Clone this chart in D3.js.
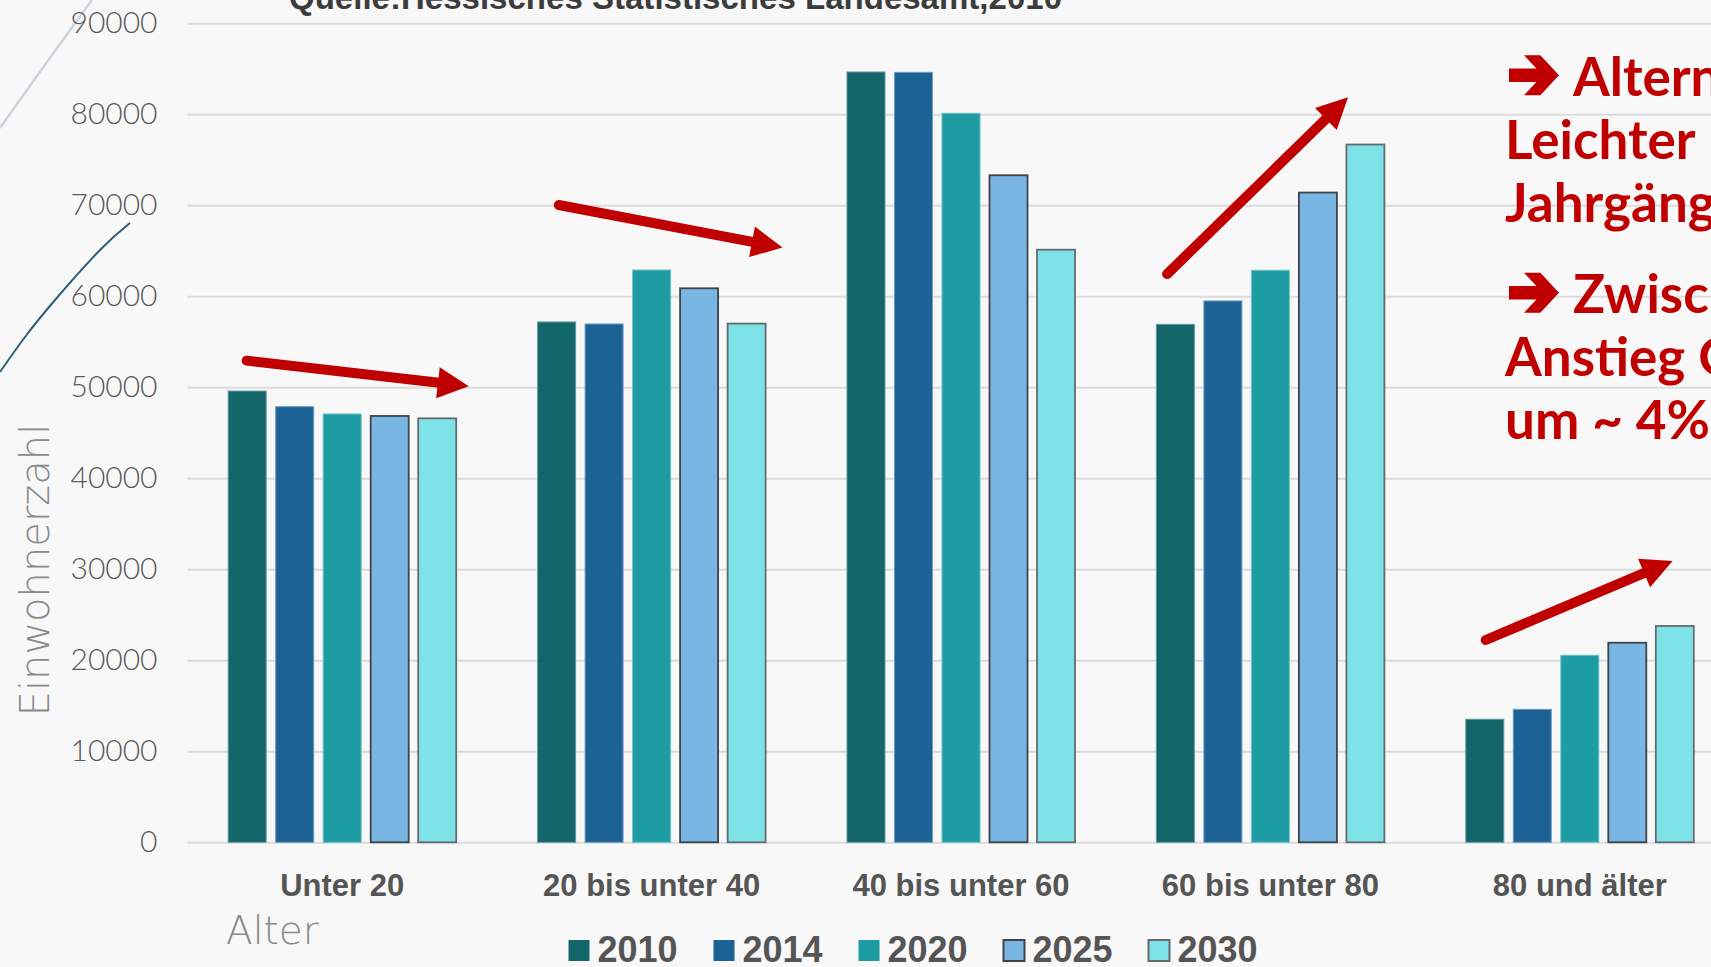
<!DOCTYPE html>
<html>
<head>
<meta charset="utf-8">
<script src="https://cdn.jsdelivr.net/npm/d3@7"></script>
<style>
  html, body { margin: 0; padding: 0; background: #f8f8f8; overflow: hidden; }
  svg { display: block; }
</style>
</head>
<body>
<div id="chart"></div>
<script>
// Bevölkerung nach Altersgruppen, Quelle: Hessisches Statistisches Landesamt
const categories = ['Unter 20', '20 bis unter 40', '40 bis unter 60', '60 bis unter 80', '80 und älter'];
const years = ['2010', '2014', '2020', '2025', '2030'];
const values2010 = [49590, 57180, 84650, 56920, 13520];
const values2014 = [47870, 56960, 84610, 59490, 14610];
const values2020 = [47070, 62890, 80110, 62860, 20550];
const values2025 = [46850, 60880, 73300, 71400, 21930];
const values2030 = [46590, 57000, 65120, 76680, 23770];
const yTicks = [0, 10000, 20000, 30000, 40000, 50000, 60000, 70000, 80000, 90000];

const yearColors = ['#136669', '#1c6295', '#1e9ca3', '#79b6e3', '#7de3e8'];
const yearStrokes = ['#5f9a9e', '#6d9cc0', '#6fc2c7', '#3f4347', '#666a6c'];

// trend arrows in chart units: [category position, value]
const trendArrows = [
  { from: [0.191, 52930], to: [0.909, 50110] },
  { from: [1.200, 70030], to: [1.923, 65350] },
  { from: [3.166, 62440], to: [3.751, 81860] },
  { from: [4.196, 22230], to: [4.800, 30910] }
];

const noteLines = [
  { icon: true, text: 'Alternde Bevölkerung' },
  { icon: false, text: 'Leichter Rückgang' },
  { icon: false, text: 'Jahrgänge' },
  { icon: true, text: 'Zwischen' },
  { icon: false, text: 'Anstieg Gesamt' },
  { icon: false, text: 'um ~ 4%' }
];

const series = years.map((year, i) => ({
  year,
  values: [values2010, values2014, values2020, values2025, values2030][i]
}));

const W = 1711, H = 967;
const margin = { top: 23.3, left: 187.5 };
const innerWidth = 1547;
const innerHeight = 819;

const svg = d3.select('#chart')
  .append('svg')
  .attr('width', W)
  .attr('height', H);

svg.append('rect').attr('width', W).attr('height', H).attr('fill', '#f8f8f8');

// decorative slide lines at the left edge
const curve = d3.line().curve(d3.curveNatural);
svg.append('path')
  .attr('d', curve([[92, 0], [44, 66], [0, 128]]))
  .attr('fill', 'none')
  .attr('stroke', '#cbd5dd')
  .attr('stroke-width', 2.5);
svg.append('path')
  .attr('d', curve([[130, 223], [100, 250], [55, 300], [25, 337], [0, 372]]))
  .attr('fill', 'none')
  .attr('stroke', '#2d5f7b')
  .attr('stroke-width', 2);

// source line, cut off at the top
svg.append('text')
  .attr('x', 289)
  .attr('y', 9)
  .attr('font-family', 'Liberation Sans, Arial, sans-serif')
  .attr('font-weight', 700)
  .attr('font-size', 33)
  .attr('fill', '#3c3c3c')
  .attr('textLength', 773)
  .text('Quelle:Hessisches Statistisches Landesamt,2010');

const chart = svg.append('g')
  .attr('transform', 'translate(' + margin.left + ',' + margin.top + ')');

const x0 = d3.scaleBand()
  .domain(categories)
  .range([0, innerWidth])
  .paddingInner(0.263)
  .paddingOuter(0.1315);

const x1 = d3.scaleBand()
  .domain(years)
  .range([0, x0.bandwidth()])
  .paddingInner(0.2);

const xPos = d3.scaleLinear()
  .domain([0, categories.length])
  .range([0, innerWidth]);

const y = d3.scaleLinear()
  .domain([0, 90000])
  .range([innerHeight, 0]);

const color = d3.scaleOrdinal().domain(years).range(yearColors);
const stroke = d3.scaleOrdinal().domain(years).range(yearStrokes);

// y axis with gridlines
const yAxis = d3.axisLeft(y)
  .tickValues(yTicks)
  .tickFormat(d3.format('d'))
  .tickSizeInner(-(W - margin.left))
  .tickSizeOuter(0)
  .tickPadding(30);

const yG = chart.append('g').call(yAxis);
yG.select('.domain').remove();
yG.selectAll('.tick line')
  .attr('stroke', '#dcdcdc')
  .attr('stroke-width', 2);
yG.selectAll('.tick text')
  .attr('font-family', 'Lato, sans-serif')
  .attr('font-weight', 300)
  .attr('font-size', 30)
  .attr('fill', '#5a5a5a');

// bars
const groups = chart.selectAll('.group')
  .data(categories)
  .enter()
  .append('g')
  .attr('class', 'group')
  .attr('transform', d => 'translate(' + x0(d) + ',0)');

groups.selectAll('rect')
  .data((d, ci) => series.map(s => ({ year: s.year, value: s.values[ci] })))
  .enter()
  .append('rect')
  .attr('x', d => x1(d.year))
  .attr('y', d => y(d.value))
  .attr('width', x1.bandwidth())
  .attr('height', d => innerHeight - y(d.value))
  .attr('fill', d => color(d.year))
  .attr('stroke', d => stroke(d.year))
  .attr('stroke-width', d => (d.year === '2025' || d.year === '2030') ? 1.8 : 1);

// category labels
const xAxis = d3.axisBottom(x0).tickSize(0).tickPadding(0);
const xG = chart.append('g')
  .attr('transform', 'translate(0,' + innerHeight + ')')
  .call(xAxis);
xG.select('.domain').remove();
xG.selectAll('.tick text')
  .attr('y', 54)
  .attr('dy', 0)
  .attr('font-family', 'Liberation Sans, Arial, sans-serif')
  .attr('font-weight', 700)
  .attr('font-size', 31)
  .attr('fill', '#555555');

// axis titles
svg.append('text')
  .attr('transform', 'translate(49,570) rotate(-90)')
  .attr('text-anchor', 'middle')
  .attr('font-family', 'DejaVu Sans, sans-serif')
  .attr('font-weight', 200)
  .attr('font-size', 40)
  .attr('fill', '#8a8a8a')
  .text('Einwohnerzahl');

svg.append('text')
  .attr('x', 226)
  .attr('y', 944)
  .attr('font-family', 'DejaVu Sans, sans-serif')
  .attr('font-weight', 200)
  .attr('font-size', 39)
  .attr('fill', '#8a8a8a')
  .text('Alter');

// trend arrows
const red = '#c00000';
const arrows = chart.append('g').attr('class', 'arrows');
trendArrows.forEach(a => {
  const sx = xPos(a.from[0]), sy = y(a.from[1]);
  const tx = xPos(a.to[0]), ty = y(a.to[1]);
  const ang = Math.atan2(ty - sy, tx - sx);
  const len = Math.hypot(tx - sx, ty - sy);
  const g = arrows.append('g')
    .attr('transform', 'translate(' + sx + ',' + sy + ') rotate(' + (ang * 180 / Math.PI) + ')');
  g.append('line')
    .attr('x1', 0).attr('y1', 0)
    .attr('x2', len - 28).attr('y2', 0)
    .attr('stroke', red)
    .attr('stroke-width', 10)
    .attr('stroke-linecap', 'round');
  g.append('path')
    .attr('d', 'M' + (len - 31) + ',-15.5L' + len + ',0L' + (len - 31) + ',15.5Z')
    .attr('fill', red);
});

// note text on the right
const notes = svg.append('g').attr('class', 'notes');
const iconPath = 'M0,-6.7L27.4,-6.7L15,-20L31.4,-20L50,0L31.4,20L15,20L27.4,6.7L0,6.7Z';
noteLines.forEach((line, i) => {
  const baseline = (i < 3 ? 95.7 : 313.3) + (i % 3) * 63;
  if (line.icon) {
    notes.append('path')
      .attr('d', iconPath)
      .attr('transform', 'translate(1509,' + (baseline - 20.5) + ')')
      .attr('fill', red);
  }
  notes.append('text')
    .attr('x', line.icon ? 1573 : 1505)
    .attr('y', baseline)
    .attr('font-family', 'Lato, sans-serif')
    .attr('font-weight', 700)
    .attr('font-size', 53)
    .attr('fill', red)
    .text(line.text);
});

// legend
const legend = svg.append('g')
  .attr('transform', 'translate(568.5,940)');
const items = legend.selectAll('.item')
  .data(years)
  .enter()
  .append('g')
  .attr('class', 'item')
  .attr('transform', (d, i) => 'translate(' + (i * 145) + ',0)');
items.append('rect')
  .attr('width', 21)
  .attr('height', 21)
  .attr('fill', d => color(d))
  .attr('stroke', d => (d === '2025' || d === '2030') ? stroke(d) : 'none')
  .attr('stroke-width', 2);
items.append('text')
  .attr('x', 29)
  .attr('y', 22)
  .attr('font-family', 'Liberation Sans, Arial, sans-serif')
  .attr('font-weight', 700)
  .attr('font-size', 36)
  .attr('fill', '#555555')
  .text(d => d);
</script>
</body>
</html>
